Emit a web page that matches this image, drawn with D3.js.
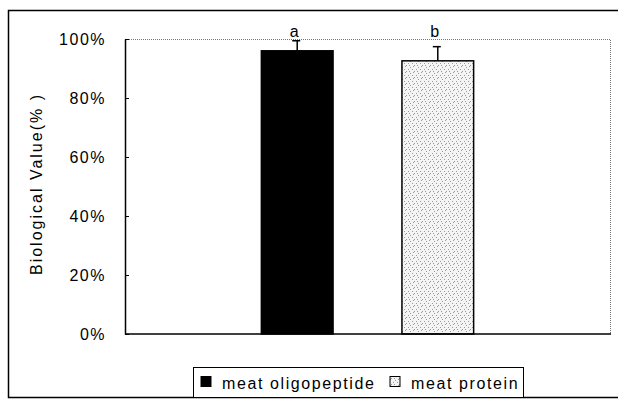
<!DOCTYPE html>
<html>
<head>
<meta charset="utf-8">
<script src="https://cdn.jsdelivr.net/npm/d3@7"></script>
<style>
  body { margin: 0; background: #fff; }
  text { font-family: Arial, "Liberation Sans", sans-serif; fill: #000; }
</style>
</head>
<body>
<div id="chart"></div>
<script>
const seriesNames = ['meat oligopeptide', 'meat protein'];
const values = [0.96, 0.926];
const errors = [0.034, 0.048];
const sigLetters = ['a', 'b'];
const yTicks = [0, 0.2, 0.4, 0.6, 0.8, 1.0];
const yTitle = 'Biological Value(% )';

const W = 618, H = 400;
const plot = { left: 125, right: 610, top: 39, bottom: 334 };

const svg = d3.select('#chart').append('svg')
  .attr('width', W)
  .attr('height', H);

const defs = svg.append('defs');
const pat = defs.append('pattern')
  .attr('id', 'dots')
  .attr('patternUnits', 'userSpaceOnUse')
  .attr('width', 8)
  .attr('height', 6);
pat.append('rect').attr('width', 8).attr('height', 6).attr('fill', '#f4f4f4');
[[0, 3], [2, 1], [4, 3], [6, 5], [5, 0], [1, 5]].forEach(([px, py]) => {
  pat.append('rect').attr('x', px).attr('y', py).attr('width', 1).attr('height', 1).attr('fill', '#9a9a9a');
});

// outer frame
svg.append('rect')
  .attr('x', 8.5).attr('y', 10.5)
  .attr('width', 620).attr('height', 387)
  .attr('fill', 'none')
  .attr('stroke', '#000')
  .attr('stroke-width', 1.5);

const x = d3.scaleBand()
  .domain(seriesNames)
  .range([plot.left, plot.right])
  .paddingInner(0.49)
  .paddingOuter(0.97);

const y = d3.scaleLinear()
  .domain([0, 1])
  .range([plot.bottom, plot.top]);

// top and right plot border (dotted grey)
svg.append('path')
  .attr('d', `M${plot.left},${plot.top + 0.5}H${plot.right + 0.5}V${plot.bottom}`)
  .attr('fill', 'none')
  .attr('stroke', '#777')
  .attr('stroke-dasharray', '1,1');

const colors = ['#000', 'url(#dots)'];

svg.append('g')
  .selectAll('rect')
  .data(values)
  .join('rect')
  .attr('x', (d, i) => x(seriesNames[i]))
  .attr('y', d => y(d))
  .attr('width', x.bandwidth())
  .attr('height', d => y(0) - y(d))
  .attr('fill', (d, i) => colors[i])
  .attr('stroke', '#000')
  .attr('stroke-width', 1.5);

// error bars
const err = svg.append('g').attr('stroke', '#000').attr('stroke-width', 1.5);
values.forEach((v, i) => {
  const cx = x(seriesNames[i]) + x.bandwidth() / 2;
  err.append('line')
    .attr('x1', cx).attr('x2', cx)
    .attr('y1', y(v)).attr('y2', y(v + errors[i]));
  err.append('line')
    .attr('x1', cx - 5).attr('x2', cx + 3)
    .attr('y1', y(v + errors[i])).attr('y2', y(v + errors[i]));
  svg.append('text')
    .attr('x', cx - 3)
    .attr('y', 37)
    .attr('text-anchor', 'middle')
    .attr('font-size', 16)
    .text(sigLetters[i]);
});

// axes
const yAxis = d3.axisLeft(y)
  .tickValues(yTicks)
  .tickFormat(d3.format('.0%'))
  .tickSizeInner(-4)
  .tickSizeOuter(0)
  .tickPadding(19);

const gy = svg.append('g')
  .attr('transform', `translate(${plot.left},0)`)
  .call(yAxis);
gy.select('.domain').attr('stroke', '#000').attr('stroke-width', 1.5);
gy.selectAll('.tick line').attr('stroke', '#000');
gy.selectAll('.tick text')
  .attr('font-size', 16)
  .attr('letter-spacing', 1.5)
  .attr('font-family', 'Arial, "Liberation Sans", sans-serif')
  .attr('fill', '#000');

svg.append('line')
  .attr('x1', plot.left).attr('x2', plot.right + 1)
  .attr('y1', plot.bottom).attr('y2', plot.bottom)
  .attr('stroke', '#000')
  .attr('stroke-width', 1.5);

svg.append('text')
  .attr('transform', `translate(42,184) rotate(-90)`)
  .attr('text-anchor', 'middle')
  .attr('font-size', 16)
  .attr('letter-spacing', 2)
  .text(yTitle);

// legend
const lg = svg.append('g').attr('transform', 'translate(193,367)');
lg.append('rect')
  .attr('x', 0.5).attr('y', 0.5)
  .attr('width', 330).attr('height', 30)
  .attr('fill', '#fff')
  .attr('stroke', '#000');
const legendX = [8, 197];
seriesNames.forEach((name, i) => {
  lg.append('rect')
    .attr('x', legendX[i]).attr('y', 9.5)
    .attr('width', 10).attr('height', 10)
    .attr('fill', colors[i])
    .attr('stroke', '#000');
  lg.append('text')
    .attr('x', legendX[i] + 21)
    .attr('y', 22)
    .attr('font-size', 16)
    .attr('letter-spacing', 1.6)
    .text(name);
});
</script>
</body>
</html>
